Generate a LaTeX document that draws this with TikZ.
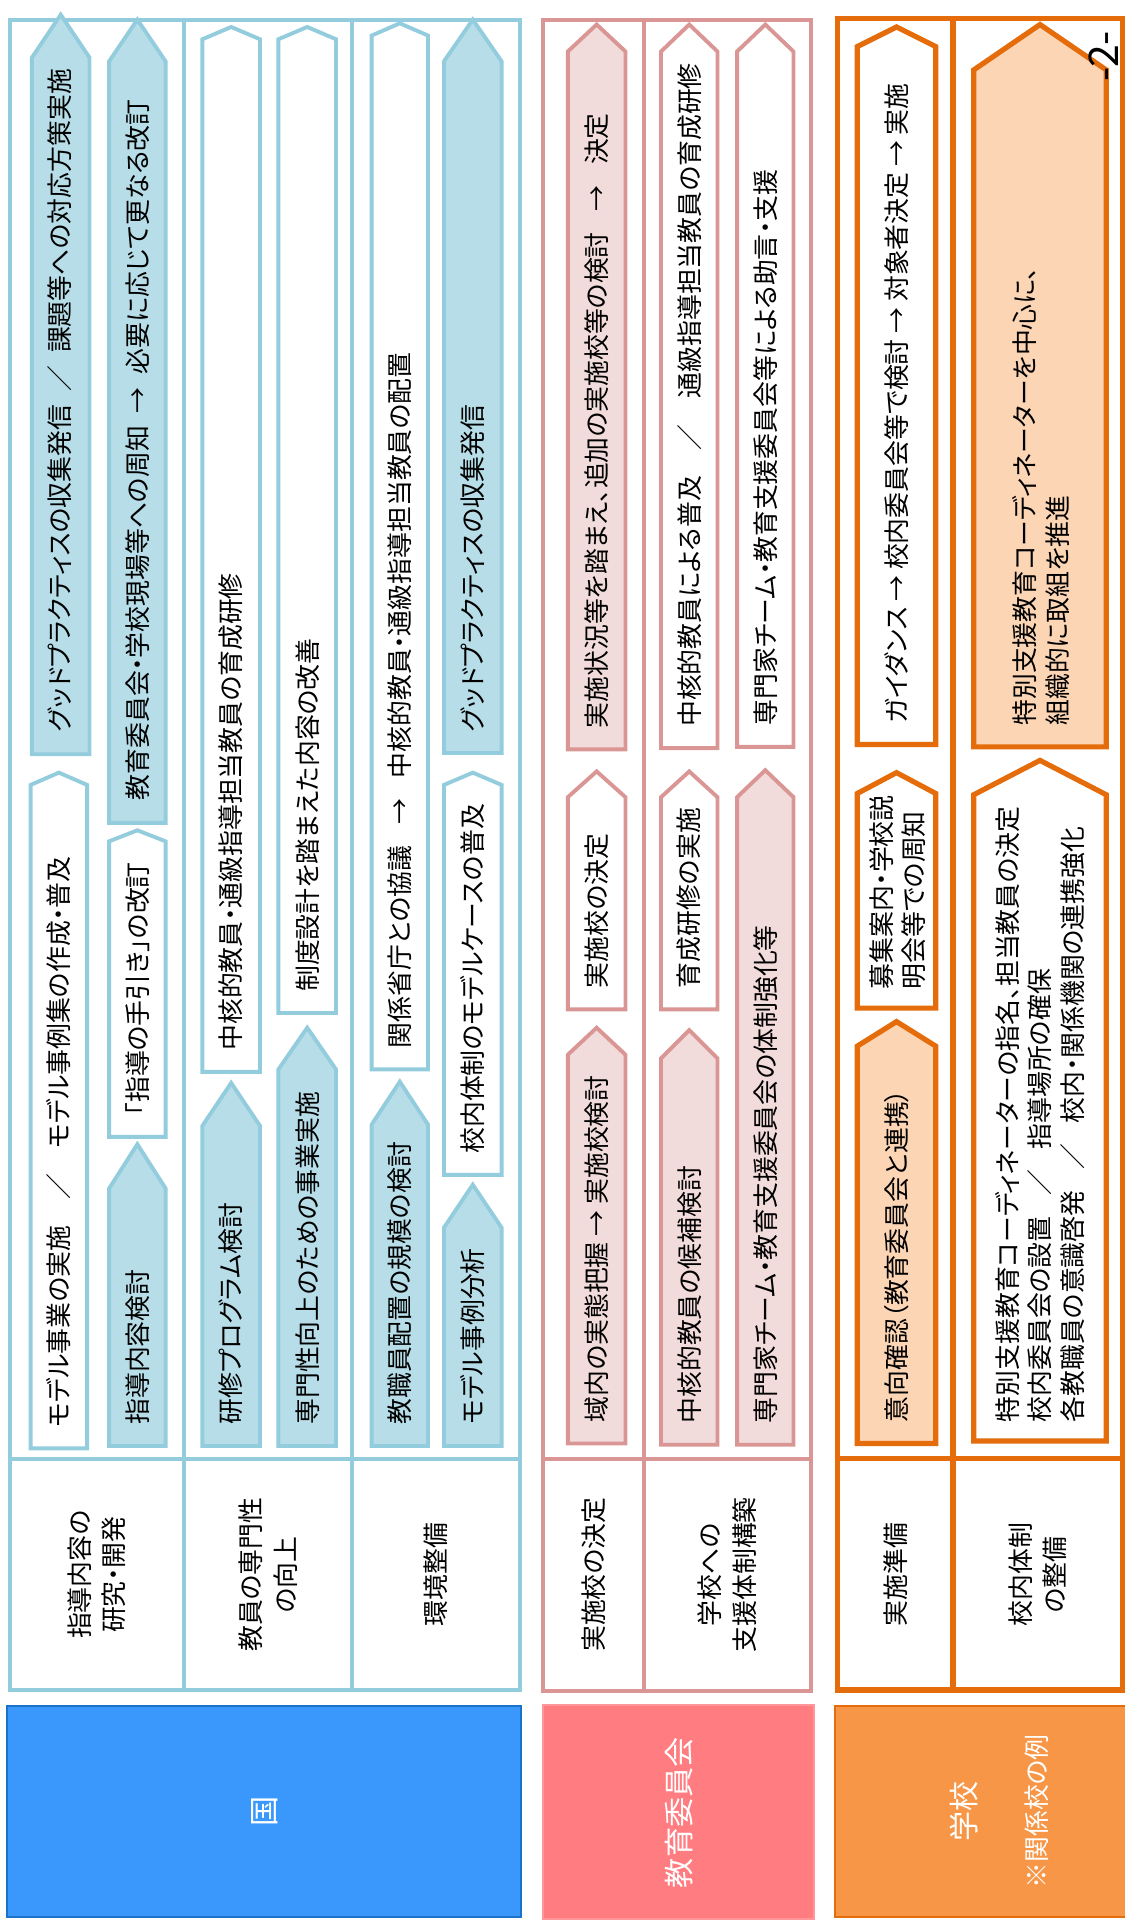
\documentclass[tikz,border=0pt]{standalone}
\usepackage{fontspec}
\setmainfont{Noto Sans CJK JP}[RawFeature=+palt]
\definecolor{kuniline}{HTML}{93CDDD}
\definecolor{kunifill}{HTML}{B7DEE8}
\definecolor{kunihead}{HTML}{3A98FD}
\definecolor{kuniedge}{HTML}{1C72C9}
\definecolor{iinline}{HTML}{D99694}
\definecolor{iinfill}{HTML}{F2DCDB}
\definecolor{iinhead}{HTML}{FF7C80}
\definecolor{gakuline}{HTML}{E46C0A}
\definecolor{gakufill}{HTML}{FCD5B5}
\definecolor{gakuhead}{HTML}{F79646}

\begin{document}
\begin{tikzpicture}[x=0.02cm,y=-0.02cm,
    bline/.style={draw=kuniline,line width=1.8pt},
    bfill/.style={draw=kuniline,fill=kunifill,line width=1.8pt},
    bwhite/.style={draw=kuniline,fill=white,line width=1.8pt},
    rline/.style={draw=iinline,line width=1.8pt},
    rfill/.style={draw=iinline,fill=iinfill,line width=1.8pt},
    rwhite/.style={draw=iinline,fill=white,line width=1.8pt},
    oline/.style={draw=gakuline,line width=2.4pt},
    ofill/.style={draw=gakuline,fill=gakufill,line width=2.4pt},
    owhite/.style={draw=gakuline,fill=white,line width=2.4pt},
    atext/.style={rotate=90,anchor=west,inner sep=0pt,align=left,
        font=\fontsize{12}{15}\selectfont},
    celltext/.style={rotate=90,align=center,inner sep=0pt,
        font=\fontsize{12}{16}\selectfont},
    headtext/.style={rotate=90,text=white,inner sep=0pt,
        font=\fontsize{14}{18}\selectfont}]
    \useasboundingbox (0,0) rectangle (917,1568);

    % frames
    \foreach \xa/\xb in {8/150,150/287,287/424} {
        \draw [bline] (\xa,16) rectangle (\xb,1378);
    }
    \draw [bline] (8,1190) -- (424,1190);
    \foreach \xa/\xb in {443/525,525/661} {
        \draw [rline] (\xa,16) rectangle (\xb,1379);
    }
    \draw [rline] (443,1190) -- (661,1190);
    \foreach \xa/\xb in {683/777,777/915} {
        \draw [oline] (\xa,15) rectangle (\xb,1378);
    }
    \draw [oline] (683,1189) -- (915,1189);

    % arrows
    \foreach \st/\xl/\xr/\yt/\ys/\yb in {
        bfill/26/73/12/47/615, bwhite/25/71/630/640/1181,
        bfill/89/135/16/50/671, bwhite/89/135/677/686/927, bfill/89/135/933/969/1179,
        bwhite/165/212/22/32/874, bfill/165/212/883/918/1179,
        bwhite/227/274/22/32/826, bfill/227/274/838/872/1179,
        bwhite/303/349/19/29/872, bfill/303/349/882/917/1179,
        bfill/362/409/16/50/614, bwhite/362/409/630/640/958, bfill/362/409/966/1001/1179,
        rfill/463/510/20/42/611, rwhite/463/510/629/650/823, rfill/463/510/838/860/1177,
        rwhite/539/585/20/42/610, rwhite/539/585/629/650/823, rfill/539/585/840/863/1178,
        rwhite/601/647/20/42/609, rfill/601/647/628/650/1178,
        owhite/699/763/22/38/607, owhite/699/763/630/647/822, ofill/699/763/833/853/1177,
        ofill/794/902/20/57/609, owhite/794/902/620/648/1175} {
        \draw [style=\st] (\xl,\yb) -- (\xl,\ys) -- ({(\xl+\xr)/2},\yt)
            -- (\xr,\ys) -- (\xr,\yb) -- cycle;
    }

    % kuni
    \node [atext] (kunia1) at (49,597) {グッドプラクティスの収集発信\enspace／\enspace 課題等への対応方策実施};
    \node [atext] (kunia2) at (48,1164) {モデル事業の実施　／　モデル事例集の作成・普及};
    \node [atext] (kunib1) at (112,653) {教育委員会・学校現場等への周知\enspace→\enspace 必要に応じて更なる改訂};
    \node [atext] (kunib2) at (112,910) {「指導の手引き」の改訂};
    \node [atext] (kunib3) at (112,1162) {指導内容検討};
    \node [atext] (kunic1) at (188.5,857) {中核的教員・通級指導担当教員の育成研修};
    \node [atext] (kunic2) at (188.5,1162) {研修プログラム検討};
    \node [atext] (kunid1) at (250.5,809) {制度設計を踏まえた内容の改善};
    \node [atext] (kunid2) at (250.5,1162) {専門性向上のための事業実施};
    \node [atext] (kunie1) at (326,855) {関係省庁との協議\hspace{0.8em}→\hspace{0.8em}中核的教員・通級指導担当教員の配置};
    \node [atext] (kunie2) at (326,1162) {教職員配置の規模の検討};
    \node [atext] (kunif1) at (385.5,597) {グッドプラクティスの収集発信};
    \node [atext] (kunif2) at (385.5,941) {校内体制のモデルケースの普及};
    \node [atext] (kunif3) at (385.5,1162) {モデル事例分析};

    % iinkai
    \node [atext] (iing1) at (486.5,594) {実施状況等を踏まえ、追加の実施校等の検討\hspace{0.8em}→\hspace{0.8em}決定};
    \node [atext] (iing2) at (486.5,806) {実施校の決定};
    \node [atext] (iing3) at (486.5,1160) {域内の実態把握 → 実施校検討};
    \node [atext] (iinh1) at (562,593) {中核的教員による普及　／　通級指導担当教員の育成研修};
    \node [atext] (iinh2) at (562,806) {育成研修の実施};
    \node [atext] (iinh3) at (562,1161) {中核的教員の候補検討};
    \node [atext] (iini1) at (624,592) {専門家チーム・教育支援委員会等による助言・支援};
    \node [atext] (iini2) at (624,1161) {専門家チーム・教育支援委員会の体制強化等};

    % gakko
    \node [atext] (gakuj1) at (731,590) {ガイダンス → 校内委員会等で検討 → 対象者決定 → 実施};
    \node [atext] (gakuj2) at (732,807) {募集案内・学校説\\明会等での周知};
    \node [atext] (gakuj3) at (731,1160) {意向確認（教育委員会と連携）};
    \node [atext] (gakuk1) at (849,592) {特別支援教育コーディネーターを中心に、\\組織的に取組を推進};
    \node [atext] (gakuk2) at (848,1160) {特別支援教育コーディネーターの指名、担当教員の決定\\
        校内委員会の設置\hspace{0.8em}／\hspace{0.8em}指導場所の確保\\
        各教職員の意識啓発\hspace{0.8em}／\hspace{0.8em}校内・関係機関の連携強化};

    % row heads
    \node [celltext] (cellk1) at (79,1284) {指導内容の\\研究・開発};
    \node [celltext] (cellk2) at (218.5,1284) {教員の専門性\\の向上};
    \node [celltext] (cellk3) at (355.5,1284) {環境整備};
    \node [celltext] (celli1) at (484,1284) {実施校の決定};
    \node [celltext] (celli2) at (593,1284) {学校への\\支援体制構築};
    \node [celltext] (cellg1) at (730,1284) {実施準備};
    \node [celltext] (cellg2) at (846,1284) {校内体制\\の整備};

    % heads
    \draw [fill=kunihead,draw=kuniedge,line width=0.8pt] (6,1391) rectangle (425,1563);
    \draw [fill=iinhead,draw=iinhead!80!white,line width=0.8pt] (443,1390) rectangle (664,1565);
    \draw [fill=gakuhead,draw=gakuline,line width=0.8pt] (681,1391) rectangle (925,1563);
    \node [headtext] (kuni) at (215.5,1477) {国};
    \node [headtext] (iinkai) at (553.5,1478) {教育委員会};
    \node [headtext] (gakko) at (786,1477) {学校};
    \node [headtext,font=\fontsize{12}{16}\selectfont] (kankei) at (845,1477) {※関係校の例};

    \node [rotate=90,inner sep=0pt,font=\fontsize{19}{21}\selectfont] (page) at (900,46) {-2-};
\end{tikzpicture}
\end{document}
